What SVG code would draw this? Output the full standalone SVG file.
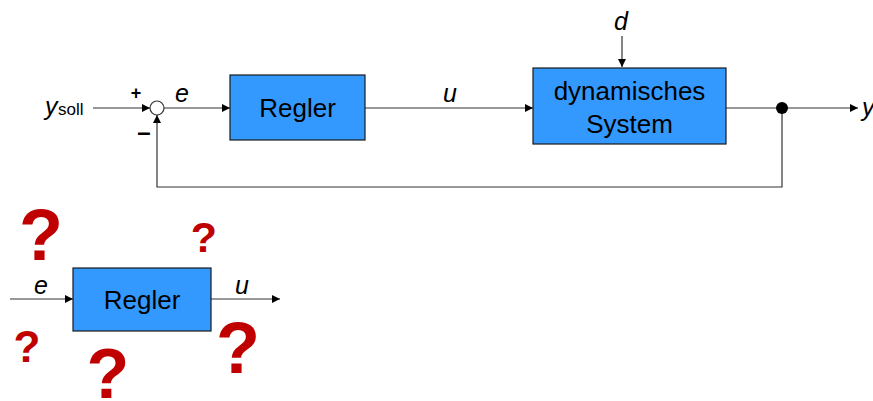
<svg xmlns="http://www.w3.org/2000/svg" width="873" height="401" viewBox="0 0 873 401">
<defs>
<marker id="ah" viewBox="0 0 10 10" refX="10" refY="5" markerWidth="8" markerHeight="8" markerUnits="userSpaceOnUse" orient="auto">
<path d="M0,0 L10,5 L0,10 z" fill="#000"/>
</marker>
<style>
.box{fill:#3399FF;stroke:#1a1a1a;stroke-width:1.2}
.t{font-family:"Liberation Sans",Arial,sans-serif;font-size:26px;fill:#000;text-anchor:middle}
.i{font-family:"Liberation Sans",Arial,sans-serif;font-size:25px;font-style:italic;fill:#000;text-anchor:middle}
.ln{fill:none;stroke:#333;stroke-width:1.2}
.q{font-family:"Liberation Sans",Arial,sans-serif;font-weight:bold;fill:#C00000;text-anchor:middle}
</style>
</defs>
<rect width="873" height="401" fill="#fff"/>
<g id="connectors">
<path class="ln" d="M93,108 H150" marker-end="url(#ah)"/>
<path class="ln" d="M164,108 H230" marker-end="url(#ah)"/>
<path class="ln" d="M365,108 H533" marker-end="url(#ah)"/>
<path class="ln" d="M622,36 V67" marker-end="url(#ah)"/>
<path class="ln" d="M726,108 H858" marker-end="url(#ah)"/>
<path class="ln" d="M782,108 V187 H157 V115" marker-end="url(#ah)"/>
<path class="ln" d="M10,299 H73" marker-end="url(#ah)"/>
<path class="ln" d="M211,299 H280" marker-end="url(#ah)"/>
</g>
<g id="sum">
<circle cx="157" cy="108" r="7" fill="#fff" stroke="#333" stroke-width="1.2"/>
<text x="136" y="99" font-family="Liberation Sans,Arial,sans-serif" font-weight="bold" font-size="18" text-anchor="middle">+</text>
<text x="144" y="140" font-family="Liberation Sans,Arial,sans-serif" font-weight="bold" font-size="24" text-anchor="middle">–</text>
</g>
<g id="labels">
<text x="45" y="115" font-family="Liberation Sans,Arial,sans-serif" font-size="25" font-style="italic">y</text>
<text x="58" y="115" font-family="Liberation Sans,Arial,sans-serif" font-size="17">soll</text>
<text class="i" x="182" y="102">e</text>
<text class="i" x="450" y="102">u</text>
<text class="i" x="621" y="30">d</text>
<text x="862" y="116" font-family="Liberation Sans,Arial,sans-serif" font-size="25" font-style="italic">y</text>
<text class="i" x="41" y="294">e</text>
<text class="i" x="242" y="294">u</text>
</g>
<g id="regler">
<rect class="box" x="230" y="75" width="135" height="65"/>
<text class="t" x="297.5" y="117">Regler</text>
</g>
<g id="system">
<rect class="box" x="533" y="68" width="193" height="76"/>
<text class="t" x="629.5" y="100">dynamisches</text>
<text class="t" x="629.5" y="133">System</text>
</g>
<g id="branch">
<circle cx="782" cy="108" r="6" fill="#000"/>
</g>
<g id="regler2">
<rect class="box" x="73" y="268" width="138" height="63"/>
<text class="t" x="142" y="309">Regler</text>
</g>
<g id="questions">
<text class="q" x="41" y="260" font-size="72">?</text>
<text class="q" x="204" y="252" font-size="43">?</text>
<text class="q" x="27" y="362" font-size="44">?</text>
<text class="q" x="108" y="398" font-size="70">?</text>
<text class="q" x="238" y="373" font-size="72">?</text>
</g>
</svg>
